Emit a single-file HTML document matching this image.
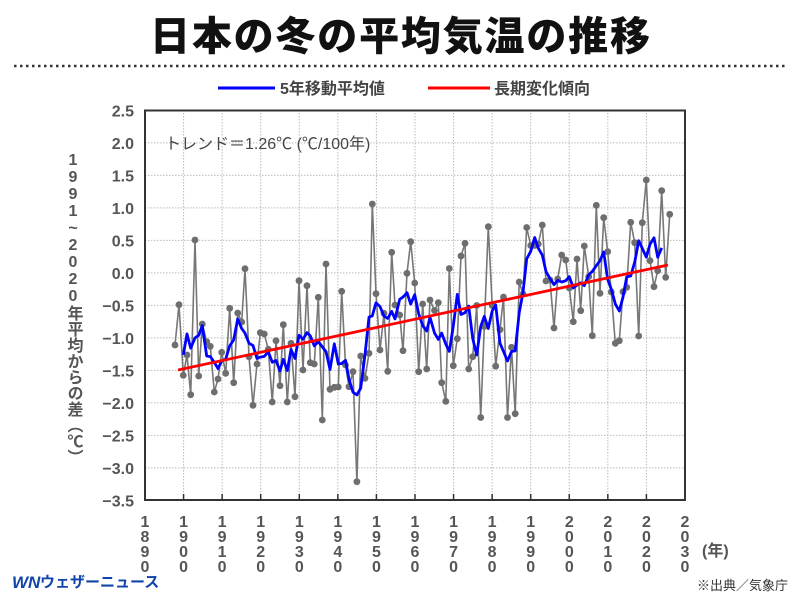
<!DOCTYPE html>
<html><head><meta charset="utf-8">
<style>
body{margin:0;background:#fff;width:800px;height:600px;overflow:hidden;font-family:"Liberation Sans","Noto Sans CJK JP",sans-serif;}
</style></head><body>
<svg id="s" width="800" height="600" xmlns="http://www.w3.org/2000/svg" style="position:absolute;left:0;top:0">
<text x="400" y="50" text-anchor="middle" font-family="Liberation Sans,Noto Sans CJK JP,sans-serif" font-weight="900" font-size="40" fill="#111" textLength="500">日本の冬の平均気温の推移</text>
<line x1="14" y1="66" x2="786" y2="66" stroke="#333" stroke-width="2.5" stroke-dasharray="2.5,3.5"/>
<line x1="218" y1="88" x2="275" y2="88" stroke="#0000ff" stroke-width="3"/>
<text x="280" y="94" font-size="16" font-weight="bold" fill="#444" font-family="Liberation Sans,Noto Sans CJK JP,sans-serif">5年移動平均値</text>
<line x1="428" y1="88" x2="490" y2="88" stroke="#ff0000" stroke-width="3"/>
<text x="494" y="94" font-size="16" font-weight="bold" fill="#444" font-family="Liberation Sans,Noto Sans CJK JP,sans-serif">長期変化傾向</text>
<g id="grid"></g>
<rect x="145" y="110.5" width="540" height="389.5" fill="none" stroke="#333" stroke-width="2"/>
<text x="165" y="149" font-size="16" fill="#444" font-family="Liberation Sans,Noto Sans CJK JP,sans-serif">トレンド＝1.26℃ (℃/100年)</text>
<g id="data"></g>
<text x="73" y="152" font-size="16" font-weight="bold" fill="#555" style="writing-mode:vertical-rl;text-orientation:upright" font-family="Liberation Sans,Noto Sans CJK JP,sans-serif">1991~2020年平均からの差（℃）</text>
<text x="702" y="556" font-size="16" font-weight="bold" fill="#555" font-family="Liberation Sans,Noto Sans CJK JP,sans-serif">(年)</text>
<text x="12" y="588" font-size="17" font-weight="900" fill="#1144aa" font-style="italic" font-family="Liberation Sans,sans-serif">WN</text>
<text x="40" y="587" font-size="15" font-weight="bold" fill="#1144aa" font-family="Liberation Sans,Noto Sans CJK JP,sans-serif">ウェザーニュース</text>
<text x="697" y="590" font-size="13" fill="#333" font-family="Liberation Sans,Noto Sans CJK JP,sans-serif">※出典／気象庁</text>
</svg>
<script>
var NS="http://www.w3.org/2000/svg";
function el(t,a,p){var e=document.createElementNS(NS,t);for(var k in a)e.setAttribute(k,a[k]);(p||document.getElementById('data')).appendChild(e);return e;}
var g=document.getElementById('grid');
function Y(v){return 272.9-v*65;}
for(var i=0;i<=12;i++){var v=2.5-i*0.5,y=Y(v);
 if(i>0&&i<12)el('line',{x1:145,y1:y,x2:685,y2:y,stroke:'#bbb','stroke-width':1,'stroke-dasharray':'1.5,1.5'},g);
 var t=el('text',{x:134,y:y+6,'text-anchor':'end','font-size':16,'font-weight':'bold',fill:'#555','font-family':'Liberation Sans,sans-serif'},g);
 t.textContent=(v<0?'\u2212'+(-v).toFixed(1):v.toFixed(1));}
for(var d=0;d<=14;d++){var x=145+d*38.57;
 if(d>0&&d<14)el('line',{x1:x,y1:110,x2:x,y2:500,stroke:'#bbb','stroke-width':1,'stroke-dasharray':'1.5,1.5'},g);
 el('line',{x1:x,y1:494,x2:x,y2:500,stroke:'#333','stroke-width':1.5},g);
 var yr=String(1890+d*10);
 for(var c=0;c<4;c++){var t=el('text',{x:x,y:527+c*15,'text-anchor':'middle','font-size':16,'font-weight':'bold',fill:'#555','font-family':'Liberation Sans,sans-serif'},g);t.textContent=yr[c];}}
var P=[[175,345],[179,304.7],[183.3,375.3],[187,355],[190.7,394.7],[195,240],[198.7,376],[202.3,324],[206.7,341.7],[210.3,346.3],[214.3,392],[218,379],[221.7,352.3],[225.7,373.3],[229.7,308.3],[233.7,382.7],[237.7,313],[241.7,322],[245,268.7],[249,356.7],[253,405.3],[257,364],[260.3,332.7],[264.3,334],[268.3,349.3],[272.3,402],[276,340.7],[280,385.7],[283.3,324.7],[287.3,402],[291,343.3],[295,396.7],[299,280.7],[303,370],[307,285.7],[310.3,362.7],[314.3,364],[318.3,297.3],[322.3,420],[326,264],[330,389.3],[334.3,387.3],[338.3,387],[341.7,291.3],[345.5,365],[349,386.7],[353,371.7],[356.9,481.7],[360.7,356],[365,378.3],[369,353.3],[372.3,204],[376,293.7],[380,350],[384,313.3],[387.7,371.3],[391.7,252.3],[395,305],[399.7,315],[403,350.7],[407,273.3],[410.7,241.7],[414.7,283],[418.7,371.7],[422.7,304],[426.7,369],[430,300],[434.5,310.5],[438.3,302.7],[441.7,382.7],[445.8,401.3],[449.3,268.5],[453.3,365.7],[457.3,338.7],[461,256],[465,243.3],[468.7,369],[472.7,356.7],[476.7,305.5],[480.7,417.5],[484.3,326.5],[488.3,226.7],[492.2,305.5],[495.7,366.2],[500,329.7],[503.5,297],[507.5,417.5],[511.5,347.3],[515.2,413.7],[519.2,282],[523,294],[526.7,227.5],[530.7,245.5],[534.7,245.5],[538.3,244],[542.3,225],[546,281],[550,280],[554,328],[557.7,279],[561.7,255],[565.7,260],[569.3,288],[573.3,321.7],[577,259],[580.7,310.7],[584.3,246],[588.7,276.7],[592.3,335.7],[596.3,205.3],[600,293.3],[603.7,217.7],[607.7,251.7],[611.3,292],[615.3,343.3],[619.3,340.7],[623,291.7],[626.7,287.3],[630.7,222.3],[634.7,242.7],[638.7,336],[642.3,222.7],[646.3,180],[650,260.7],[654,286.7],[657.7,270.7],[661.7,190.7],[665.7,277.3],[669.7,214.3]];
el('polyline',{points:P.map(function(p){return p.join(',')}).join(' '),fill:'none',stroke:'#777','stroke-width':1.6});
P.forEach(function(p){el('circle',{cx:p[0],cy:p[1],r:3.4,fill:'#6e6e6e'});});
var B=[];for(var i=2;i<P.length-2;i++){var s=0;for(var j=-2;j<=2;j++)s+=P[i+j][1];B.push(P[i][0]+','+(s/5).toFixed(1));}
el('polyline',{points:B.join(' '),fill:'none',stroke:'#0000ff','stroke-width':2.8,'stroke-linejoin':'round'});
el('line',{x1:178,y1:370,x2:668,y2:265,stroke:'#ff0000','stroke-width':2.8});
</script>
</body></html>
